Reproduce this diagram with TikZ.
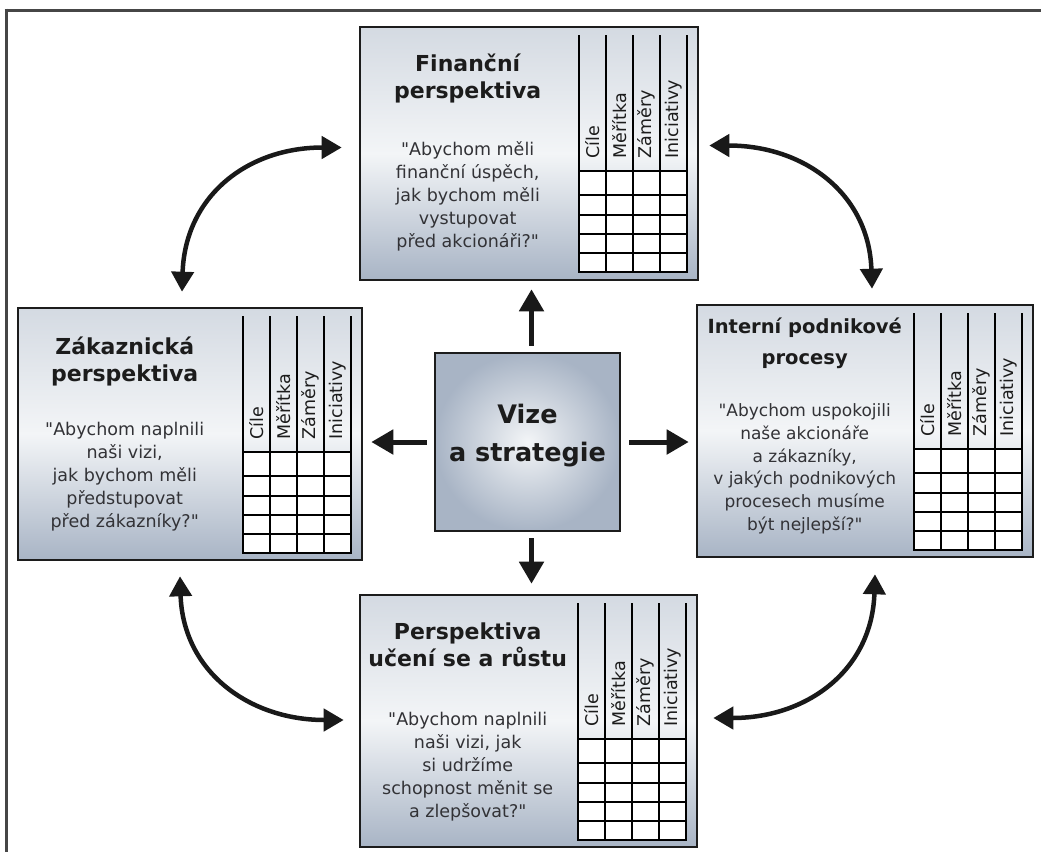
\documentclass[tikz,border=0pt]{standalone}
\usepackage{fontspec}
\newfontfamily\panelfont{DejaVu Sans}
\usetikzlibrary{arrows.meta,calc}

\definecolor{ink}{RGB}{28,28,28}
\definecolor{bodyink}{RGB}{50,50,54}
\definecolor{framegray}{RGB}{70,70,70}
\definecolor{shadetop}{RGB}{212,218,226}
\definecolor{shademid}{RGB}{243,245,247}
\definecolor{shadebot}{RGB}{168,180,197}

\tikzset{
  panel/.style={draw=ink, line width=2.6pt, top color=shadetop, bottom color=shadebot,
    middle color=shademid, inner sep=0pt},
  hubpanel/.style={draw=ink, line width=2.6pt, inner color=shademid, outer color=shadebot,
    inner sep=0pt},
  headtext/.style={font=\panelfont\bfseries\fontsize{22}{27}\selectfont, text=ink,
    align=center, inner sep=0pt},
  bodytext/.style={font=\panelfont\fontsize{17.5}{23}\selectfont, text=bodyink,
    align=center, inner sep=0pt},
  collabel/.style={font=\panelfont\fontsize{17.5}{17.5}\selectfont, text=ink, rotate=90,
    anchor=west, inner sep=0pt},
  gridrule/.style={line width=2.3pt, draw=black, line cap=rect},
  frameline/.style={line width=3pt, draw=framegray},
  arr/.style={line width=5pt, draw=black!90, -{Triangle[length=22pt,width=24pt]}},
  twoway/.style={line width=4.5pt, draw=black!90,
    {Triangle[length=20pt,width=22pt]}-{Triangle[length=20pt,width=22pt]}},
}

% score table in the right part of a perspective panel
\newcommand\scoregrid[1]{%
  \begin{scope}[shift={(#1.north east)}]
    \fill[white] (-120,145) rectangle (-12,246);
    \foreach \gx in {-120,-93,-66,-39,-12} \draw[gridrule] (\gx,10) -- (\gx,246);
    \foreach \gy in {145,169,189,208,227,246} \draw[gridrule] (-120,\gy) -- (-12,\gy);
    \node[collabel] (#1c1) at (-106.5,133) {Cíle};
    \node[collabel] (#1c2) at (-79.5,133) {Měřítka};
    \node[collabel] (#1c3) at (-52.5,133) {Záměry};
    \node[collabel] (#1c4) at (-25.5,133) {Iniciativy};
  \end{scope}}

\begin{document}
\begin{tikzpicture}[x=1pt,y=-1pt]
\useasboundingbox (0,0) rectangle (1041,852);
\fill[white] (0,0) rectangle (1041,852);

% page frame
\draw[frameline] (6,8.5) -- (6,852);
\draw[frameline] (4.5,10) -- (1041,10);

% panels
\node[panel, minimum width=338pt, minimum height=253pt] (fin)   at (529,153.5) {};
\node[panel, minimum width=344pt, minimum height=252pt] (cust)  at (190,434) {};
\node[panel, minimum width=336pt, minimum height=252pt] (proc)  at (865,431) {};
\node[panel, minimum width=337pt, minimum height=252pt] (learn) at (528.5,721) {};
\node[hubpanel, minimum width=185pt, minimum height=178pt] (ctr) at (527.5,442) {};

\scoregrid{fin}
\scoregrid{cust}
\scoregrid{proc}
\scoregrid{learn}

% panel texts
\node[headtext] (finT) at ($(fin.north west)+(109,53)$) {Finanční\\perspektiva};
\node[bodytext] (finB) at ($(fin.north west)+(109,171)$)
  {"Abychom měli\\finanční úspěch,\\jak bychom měli\\vystupovat\\před akcionáři?"};

\node[headtext] (custT) at ($(cust.north west)+(108,55)$) {Zákaznická\\perspektiva};
\node[bodytext] (custB) at ($(cust.north west)+(108,170)$)
  {"Abychom naplnili\\naši vizi,\\jak bychom měli\\předstupovat\\před zákazníky?"};

\node[headtext, font=\panelfont\bfseries\fontsize{19.5}{31}\selectfont] (procT)
  at ($(proc.north west)+(109,40)$) {Interní podnikové\\procesy};
\node[bodytext, font=\panelfont\fontsize{17}{22.8}\selectfont] (procB)
  at ($(proc.north west)+(109,165)$)
  {"Abychom uspokojili\\naše akcionáře\\a zákazníky,\\v jakých podnikových\\procesech musíme\\být nejlepší?"};

\node[headtext] (learnT) at ($(learn.north west)+(109,51)$) {Perspektiva\\učení se a růstu};
\node[bodytext] (learnB) at ($(learn.north west)+(109,173)$)
  {"Abychom naplnili\\naši vizi, jak\\si udržíme\\schopnost měnit se\\a zlepšovat?"};

\node[headtext, font=\panelfont\bfseries\fontsize{25.5}{38}\selectfont] (ctrT)
  at ($(ctr)+(0,-6)$) {Vize\\a strategie};

% arrows from the hub
\draw[arr] ($(ctr.north)+(4,-6)$) -- ($(ctr.north |- fin.south)+(4,8)$);
\draw[arr] ($(ctr.south)+(4,6)$) -- ($(ctr.south |- learn.north)+(4,-10)$);
\draw[arr] ($(ctr.west)+(-7,0)$) -- ($(ctr.west -| cust.east)+(8,0)$);
\draw[arr] ($(ctr.east)+(8,0)$) -- ($(ctr.east -| proc.west)+(-7,0)$);

% two-way links between neighbouring perspectives
\coordinate (tlA) at ($(fin.west)+(-17,-6)$);
\coordinate (tlB) at ($(cust.north)+(-8,-15)$);
\coordinate (trA) at ($(fin.east)+(10,-8)$);
\coordinate (trB) at ($(proc.north)+(7,-15)$);
\coordinate (brA) at ($(proc.south)+(10,16)$);
\coordinate (brB) at ($(learn.east)+(15,-3)$);
\coordinate (blA) at ($(cust.south)+(-10,15)$);
\coordinate (blB) at ($(learn.west)+(-15,-1)$);

\draw[twoway] (tlA) .. controls ($(tlA)+(-95,0)$) and ($(tlB)+(3,-95)$) .. (tlB);
\draw[twoway] (trA) .. controls ($(trA)+(95,0)$) and ($(trB)+(-3,-95)$) .. (trB);
\draw[twoway] (brA) .. controls ($(brA)+(-3,95)$) and ($(brB)+(95,0)$) .. (brB);
\draw[twoway] (blA) .. controls ($(blA)+(3,95)$) and ($(blB)+(-95,0)$) .. (blB);
\end{tikzpicture}
\end{document}
